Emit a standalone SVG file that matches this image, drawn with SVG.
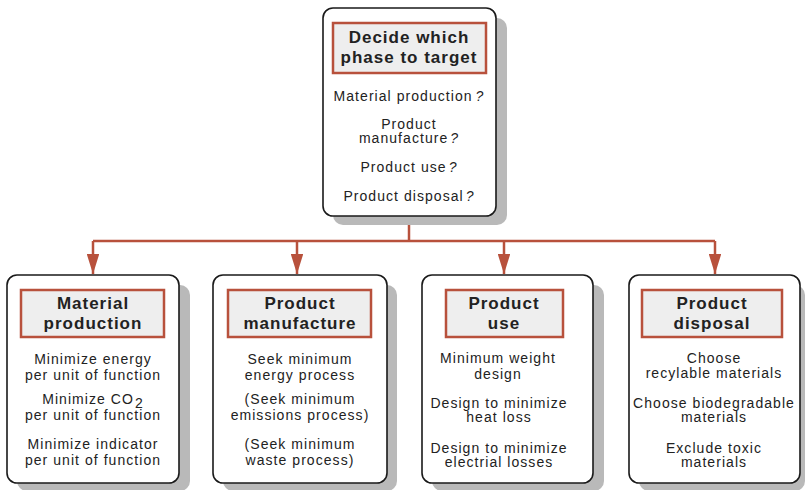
<svg xmlns="http://www.w3.org/2000/svg" width="805" height="490" viewBox="0 0 805 490">
<defs>
<style>
.shadow{fill:#b9b9b9}
.box{fill:#ffffff;stroke:#1a1a1a;stroke-width:1.6}
.hdr{fill:#eeeeee;stroke:#b8513c;stroke-width:2.5}
.ht{font-family:"Liberation Sans",Arial,sans-serif;font-weight:bold;font-size:17px;letter-spacing:1px;fill:#222;text-anchor:middle}
.bt{font-family:"Liberation Sans",Arial,sans-serif;font-size:14px;letter-spacing:1.05px;fill:#222;text-anchor:middle}
.q{font-style:italic}
.conn{fill:none;stroke:#b8513c;stroke-width:2.5}
</style>
<marker id="arr" viewBox="0 0 16 10" refX="16" refY="5" markerWidth="8" markerHeight="5" markerUnits="strokeWidth" orient="auto">
<path d="M0,0 L16,5 L0,10 Z" fill="#b8513c"/>
</marker>
</defs>

<g id="connectors">
<path class="conn" d="M409,217 V241"/>
<path class="conn" d="M93,241 H715"/>
<path class="conn" d="M93,241 V274" marker-end="url(#arr)"/>
<path class="conn" d="M297,241 V274" marker-end="url(#arr)"/>
<path class="conn" d="M504,241 V274" marker-end="url(#arr)"/>
<path class="conn" d="M715,241 V274" marker-end="url(#arr)"/>
</g>

<g id="top">
<rect class="shadow" x="333" y="18" width="174" height="207" rx="10"/>
<rect class="box" x="323" y="8" width="173" height="208" rx="10"/>
<rect class="hdr" x="333" y="23" width="153" height="50"/>
<text class="ht" x="409" y="43">Decide which<tspan x="409" dy="20">phase to target</tspan></text>
<text class="bt" x="409" y="101">Material production<tspan class="q" dx="3">?</tspan></text>
<text class="bt" x="409" y="129">Product<tspan x="409" dy="14">manufacture</tspan><tspan class="q" dx="2">?</tspan></text>
<text class="bt" x="409" y="172">Product use<tspan class="q" dx="2">?</tspan></text>
<text class="bt" x="409" y="201">Product disposal<tspan class="q" dx="2">?</tspan></text>
</g>

<g id="material">
<rect class="shadow" x="17" y="285" width="173" height="206" rx="10"/>
<rect class="box" x="7" y="275" width="172" height="208" rx="10"/>
<rect class="hdr" x="21" y="290" width="143" height="47"/>
<text class="ht" x="93" y="309">Material<tspan x="93" dy="20">production</tspan></text>
<text class="bt" x="93" y="364">Minimize energy<tspan x="93" dy="16">per unit of function</tspan></text>
<text class="bt" x="93" y="404">Minimize CO<tspan dy="4" dx="1">2</tspan><tspan x="93" dy="12">per unit of function</tspan></text>
<text class="bt" x="93" y="449">Minimize indicator<tspan x="93" dy="16">per unit of function</tspan></text>
</g>

<g id="manufacture">
<rect class="shadow" x="223" y="285" width="174" height="206" rx="10"/>
<rect class="box" x="213" y="275" width="174" height="208" rx="10"/>
<rect class="hdr" x="228" y="290" width="143" height="47"/>
<text class="ht" x="300" y="309">Product<tspan x="300" dy="20">manufacture</tspan></text>
<text class="bt" x="300" y="364">Seek minimum<tspan x="300" dy="16">energy process</tspan></text>
<text class="bt" x="300" y="404">(Seek minimum<tspan x="300" dy="16">emissions process)</tspan></text>
<text class="bt" x="300" y="449">(Seek minimum<tspan x="300" dy="16">waste process)</tspan></text>
</g>

<g id="use">
<rect class="shadow" x="432" y="285" width="172" height="206" rx="10"/>
<rect class="box" x="422" y="275" width="171" height="208" rx="10"/>
<rect class="hdr" x="446" y="290" width="117" height="47"/>
<text class="ht" x="504" y="309">Product<tspan x="504" dy="20">use</tspan></text>
<text class="bt" x="498" y="363">Minimum weight<tspan x="498" dy="16">design</tspan></text>
<text class="bt" x="499" y="408">Design to minimize<tspan x="499" dy="14">heat loss</tspan></text>
<text class="bt" x="499" y="453">Design to minimize<tspan x="499" dy="14">electrial losses</tspan></text>
</g>

<g id="disposal">
<rect class="shadow" x="639" y="285" width="166" height="206" rx="10"/>
<rect class="box" x="629" y="275" width="171" height="208" rx="10"/>
<rect class="hdr" x="642" y="290" width="140" height="47"/>
<text class="ht" x="712" y="309">Product<tspan x="712" dy="20">disposal</tspan></text>
<text class="bt" x="714" y="363">Choose<tspan x="714" dy="15">recylable materials</tspan></text>
<text class="bt" x="714" y="408">Choose biodegradable<tspan x="714" dy="14">materials</tspan></text>
<text class="bt" x="714" y="453">Exclude toxic<tspan x="714" dy="14">materials</tspan></text>
</g>
</svg>
